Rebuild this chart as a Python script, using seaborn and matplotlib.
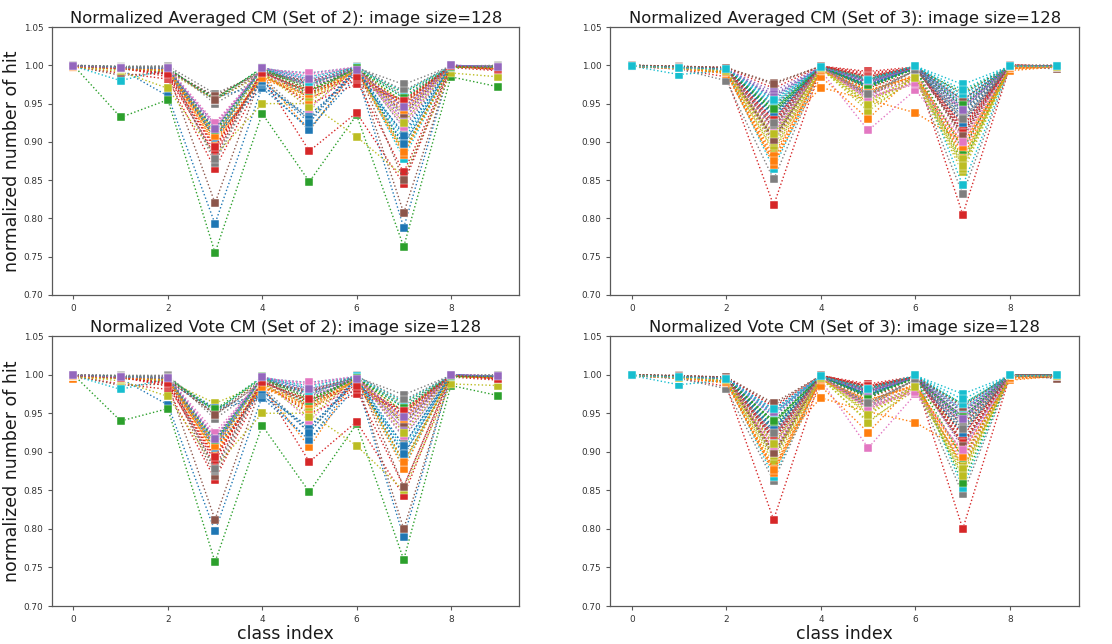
import matplotlib
matplotlib.use("Agg")
import matplotlib.pyplot as plt
import seaborn as sns
import pandas as pd

classes = list(range(10))

avg_set2 = [
    [0.999,0.995,0.960,0.793,0.972,0.935,0.990,0.788,0.999,0.998],
    [0.997,0.996,0.995,0.900,0.985,0.915,0.996,0.950,0.999,0.997],
    [1.000,0.932,0.955,0.755,0.937,0.848,0.935,0.763,0.985,0.972],
    [0.998,0.990,0.982,0.865,0.985,0.888,0.938,0.845,0.997,0.993],
    [0.999,0.996,0.993,0.923,0.996,0.980,0.990,0.935,1.000,0.997],
    [0.999,0.987,0.990,0.820,0.990,0.975,0.995,0.807,0.998,0.997],
    [0.999,0.995,0.996,0.918,0.997,0.985,0.998,0.930,1.000,0.998],
    [1.000,0.999,0.999,0.950,0.985,0.928,0.997,0.975,0.999,1.000],
    [0.998,0.992,0.970,0.882,0.950,0.950,0.907,0.855,0.990,0.985],
    [0.999,0.980,0.995,0.905,0.995,0.990,0.997,0.878,0.999,0.998],
    [0.999,0.998,0.990,0.910,0.970,0.918,0.985,0.912,0.999,0.996],
    [0.998,0.997,0.992,0.898,0.982,0.960,0.993,0.948,0.999,0.996],
    [0.999,0.998,0.997,0.905,0.998,0.970,0.995,0.964,0.998,0.999],
    [1.000,0.997,0.985,0.885,0.993,0.958,0.980,0.860,0.999,0.995],
    [0.999,0.997,0.996,0.912,0.995,0.975,0.988,0.940,1.000,0.998],
    [0.999,0.996,0.995,0.958,0.992,0.978,0.998,0.850,0.999,0.998],
    [0.999,0.996,0.997,0.920,0.996,0.943,0.997,0.940,0.999,0.998],
    [1.000,0.998,0.999,0.963,0.990,0.965,0.999,0.918,0.999,0.999],
    [0.998,0.995,0.992,0.955,0.988,0.952,0.995,0.885,0.998,0.996],
    [0.999,0.997,0.996,0.955,0.997,0.985,0.998,0.903,0.999,0.998],
    [0.999,0.997,0.994,0.958,0.975,0.915,0.996,0.895,1.000,0.997],
    [0.998,0.996,0.993,0.903,0.983,0.968,0.992,0.883,0.999,0.996],
    [0.999,0.997,0.995,0.957,0.995,0.962,0.997,0.890,0.997,0.998],
    [0.999,0.996,0.988,0.882,0.990,0.950,0.975,0.955,0.999,0.994],
    [0.999,0.997,0.995,0.915,0.997,0.972,0.992,0.945,1.000,0.998],
    [0.999,0.995,0.993,0.960,0.993,0.976,0.996,0.945,0.999,0.997],
    [0.999,0.996,0.997,0.922,0.996,0.988,0.997,0.925,1.000,0.998],
    [1.000,0.998,0.998,0.873,0.992,0.973,0.999,0.960,0.999,0.999],
    [0.998,0.996,0.994,0.910,0.990,0.945,0.996,0.935,0.998,0.996],
    [0.999,0.997,0.996,0.912,0.996,0.982,0.998,0.965,0.999,0.998],
    [0.999,0.997,0.995,0.905,0.978,0.930,0.996,0.908,1.000,0.997],
    [0.998,0.997,0.994,0.895,0.986,0.955,0.994,0.887,0.999,0.996],
    [0.999,0.998,0.996,0.955,0.997,0.968,0.996,0.952,0.998,0.998],
    [0.999,0.996,0.990,0.890,0.991,0.965,0.982,0.950,0.999,0.995],
    [0.999,0.997,0.996,0.908,0.996,0.978,0.993,0.930,1.000,0.998],
    [0.999,0.996,0.994,0.955,0.990,0.980,0.997,0.937,0.999,0.997],
    [0.999,0.996,0.997,0.925,0.995,0.990,0.998,0.920,1.000,0.998],
    [1.000,0.998,0.998,0.878,0.993,0.960,0.998,0.967,0.999,0.999],
    [0.998,0.995,0.993,0.913,0.989,0.958,0.996,0.925,0.998,0.996],
    [0.999,0.997,0.996,0.917,0.996,0.975,0.998,0.958,0.999,0.998],
    [0.999,0.997,0.995,0.915,0.980,0.925,0.996,0.897,1.000,0.997],
    [0.998,0.996,0.994,0.908,0.984,0.962,0.993,0.942,0.999,0.996],
    [0.999,0.997,0.996,0.915,0.996,0.966,0.996,0.957,0.998,0.998],
    [0.999,0.996,0.989,0.893,0.990,0.968,0.985,0.953,0.999,0.995],
    [0.999,0.997,0.996,0.917,0.997,0.982,0.994,0.945,1.000,0.998],
]

vote_set2 = [
    [0.999,0.995,0.961,0.797,0.972,0.933,0.990,0.789,0.999,0.998],
    [0.995,0.996,0.995,0.898,0.985,0.906,0.996,0.952,0.999,0.997],
    [1.000,0.940,0.956,0.757,0.934,0.848,0.936,0.760,0.986,0.973],
    [0.998,0.988,0.981,0.864,0.986,0.887,0.939,0.843,0.997,0.993],
    [0.999,0.996,0.993,0.910,0.996,0.980,0.990,0.936,1.000,0.997],
    [0.999,0.986,0.988,0.812,0.989,0.977,0.995,0.800,0.998,0.997],
    [0.999,0.995,0.996,0.920,0.997,0.986,0.998,0.929,1.000,0.998],
    [1.000,0.999,0.999,0.943,0.985,0.925,0.997,0.974,0.999,1.000],
    [0.998,0.992,0.972,0.880,0.950,0.950,0.908,0.850,0.988,0.986],
    [0.999,0.981,0.995,0.912,0.995,0.990,0.997,0.880,0.999,0.998],
    [0.999,0.998,0.990,0.955,0.970,0.915,0.985,0.909,0.999,0.996],
    [0.998,0.997,0.992,0.900,0.983,0.958,0.993,0.948,0.999,0.996],
    [0.999,0.998,0.997,0.903,0.998,0.970,0.995,0.963,0.998,0.999],
    [1.000,0.997,0.985,0.888,0.993,0.958,0.980,0.855,0.999,0.995],
    [0.999,0.997,0.996,0.907,0.995,0.975,0.988,0.940,1.000,0.998],
    [0.999,0.996,0.995,0.868,0.992,0.978,0.998,0.855,0.999,0.998],
    [0.999,0.996,0.997,0.918,0.996,0.940,0.997,0.942,0.999,0.998],
    [1.000,0.999,0.999,0.948,0.990,0.965,0.999,0.918,0.999,0.999],
    [0.998,0.995,0.992,0.963,0.988,0.952,0.995,0.885,0.998,0.996],
    [0.999,0.997,0.996,0.952,0.997,0.985,0.998,0.902,0.999,0.998],
    [0.999,0.997,0.994,0.957,0.975,0.915,0.996,0.895,1.000,0.997],
    [0.998,0.996,0.993,0.903,0.983,0.968,0.992,0.878,0.999,0.996],
    [0.999,0.997,0.995,0.953,0.995,0.962,0.997,0.887,0.997,0.998],
    [0.999,0.996,0.988,0.882,0.990,0.950,0.975,0.955,0.999,0.994],
    [0.999,0.997,0.995,0.913,0.997,0.972,0.992,0.945,1.000,0.998],
    [0.999,0.995,0.993,0.950,0.993,0.976,0.996,0.945,0.999,0.997],
    [0.999,0.996,0.997,0.920,0.996,0.988,0.997,0.925,1.000,0.998],
    [1.000,0.998,0.998,0.875,0.992,0.973,0.999,0.960,0.999,0.999],
    [0.998,0.996,0.994,0.910,0.990,0.945,0.996,0.935,0.998,0.996],
    [0.999,0.997,0.996,0.912,0.996,0.982,0.998,0.965,0.999,0.998],
    [0.999,0.997,0.995,0.905,0.978,0.930,0.996,0.908,1.000,0.997],
    [0.998,0.997,0.994,0.895,0.986,0.955,0.994,0.887,0.999,0.996],
    [0.999,0.998,0.996,0.955,0.997,0.968,0.996,0.952,0.998,0.998],
    [0.999,0.996,0.990,0.890,0.991,0.965,0.982,0.950,0.999,0.995],
    [0.999,0.997,0.996,0.908,0.996,0.978,0.993,0.930,1.000,0.998],
    [0.999,0.996,0.994,0.948,0.990,0.980,0.997,0.937,0.999,0.997],
    [0.999,0.996,0.997,0.925,0.995,0.990,0.998,0.920,1.000,0.998],
    [1.000,0.998,0.998,0.878,0.993,0.960,0.998,0.967,0.999,0.999],
    [0.998,0.995,0.993,0.913,0.989,0.958,0.996,0.925,0.998,0.996],
    [0.999,0.997,0.996,0.917,0.996,0.975,0.998,0.958,0.999,0.998],
    [0.999,0.997,0.995,0.915,0.980,0.925,0.996,0.897,1.000,0.997],
    [0.998,0.996,0.994,0.908,0.984,0.962,0.993,0.942,0.999,0.996],
    [0.999,0.997,0.996,0.915,0.996,0.966,0.996,0.957,0.998,0.998],
    [0.999,0.996,0.989,0.893,0.990,0.968,0.985,0.953,0.999,0.995],
    [0.999,0.997,0.996,0.917,0.997,0.982,0.994,0.945,1.000,0.998],
]

avg_set3 = [
    [0.999,0.997,0.995,0.940,0.998,0.978,0.996,0.938,0.999,0.999],
    [0.999,0.996,0.990,0.905,0.971,0.955,0.938,0.900,0.995,0.998],
    [1.000,0.998,0.996,0.942,0.999,0.982,0.998,0.955,0.999,0.999],
    [0.999,0.995,0.985,0.817,0.997,0.970,0.992,0.805,0.999,0.998],
    [0.999,0.997,0.994,0.960,0.998,0.980,0.997,0.950,0.999,0.999],
    [1.000,0.999,0.997,0.977,0.999,0.985,0.998,0.962,1.000,1.000],
    [0.998,0.996,0.992,0.895,0.993,0.915,0.968,0.888,0.998,0.997],
    [0.999,0.995,0.980,0.851,0.996,0.962,0.985,0.832,0.998,0.998],
    [0.999,0.996,0.990,0.890,0.995,0.945,0.980,0.860,0.998,0.998],
    [0.999,0.988,0.993,0.865,0.997,0.975,0.999,0.843,0.999,0.998],
    [0.999,0.997,0.996,0.930,0.998,0.976,0.997,0.940,0.999,0.999],
    [0.999,0.996,0.989,0.872,0.985,0.930,0.990,0.895,0.993,0.998],
    [0.999,0.997,0.995,0.935,0.998,0.970,0.996,0.872,0.999,0.999],
    [1.000,0.998,0.997,0.970,0.999,0.992,0.998,0.925,1.000,0.999],
    [0.999,0.997,0.995,0.966,0.998,0.979,0.997,0.915,0.999,0.999],
    [1.000,0.999,0.996,0.930,0.999,0.983,0.998,0.905,1.000,1.000],
    [0.999,0.996,0.994,0.915,0.997,0.960,0.975,0.945,0.999,0.998],
    [0.999,0.997,0.993,0.905,0.998,0.965,0.993,0.935,0.999,0.999],
    [0.999,0.996,0.992,0.908,0.996,0.950,0.982,0.865,0.999,0.998],
    [0.999,0.997,0.995,0.952,0.998,0.978,0.999,0.975,0.999,0.999],
    [0.999,0.997,0.996,0.945,0.998,0.974,0.997,0.955,0.999,0.999],
    [0.999,0.996,0.991,0.878,0.994,0.968,0.985,0.898,0.997,0.998],
    [0.999,0.997,0.995,0.948,0.998,0.972,0.996,0.965,0.999,0.999],
    [0.999,0.997,0.996,0.925,0.999,0.990,0.997,0.920,1.000,0.999],
    [0.999,0.997,0.996,0.955,0.998,0.976,0.997,0.948,0.999,0.999],
    [1.000,0.998,0.997,0.900,0.999,0.980,0.998,0.910,1.000,0.999],
    [0.999,0.996,0.994,0.920,0.997,0.958,0.978,0.890,0.999,0.998],
    [0.999,0.997,0.994,0.913,0.998,0.960,0.994,0.930,0.999,0.999],
    [0.999,0.996,0.993,0.887,0.996,0.955,0.985,0.875,0.999,0.998],
    [0.999,0.997,0.995,0.958,0.998,0.982,0.999,0.958,0.999,0.999],
    [0.999,0.997,0.996,0.937,0.998,0.975,0.997,0.933,0.999,0.999],
    [0.999,0.996,0.991,0.882,0.993,0.965,0.988,0.885,0.996,0.998],
    [0.999,0.997,0.995,0.940,0.998,0.973,0.996,0.942,0.999,0.999],
    [0.999,0.997,0.996,0.922,0.999,0.988,0.997,0.915,1.000,0.999],
    [0.999,0.997,0.996,0.948,0.998,0.977,0.997,0.952,0.999,0.999],
    [1.000,0.998,0.997,0.905,0.999,0.981,0.998,0.918,1.000,0.999],
    [0.999,0.996,0.994,0.910,0.997,0.955,0.980,0.905,0.999,0.998],
    [0.999,0.997,0.994,0.918,0.998,0.962,0.994,0.927,0.999,0.999],
    [0.999,0.996,0.993,0.895,0.996,0.940,0.985,0.870,0.999,0.998],
    [0.999,0.997,0.995,0.945,0.998,0.980,0.999,0.950,0.999,0.999],
    [0.999,0.997,0.996,0.932,0.998,0.973,0.997,0.945,0.999,0.999],
    [0.999,0.996,0.991,0.870,0.994,0.962,0.987,0.880,0.996,0.998],
    [0.999,0.997,0.995,0.938,0.998,0.971,0.996,0.890,0.999,0.999],
    [0.999,0.997,0.996,0.918,0.999,0.986,0.997,0.922,1.000,0.999],
    [0.999,0.997,0.996,0.962,0.998,0.978,0.997,0.946,0.999,0.999],
    [1.000,0.998,0.997,0.975,0.999,0.979,0.998,0.955,1.000,0.995],
    [0.999,0.996,0.994,0.928,0.997,0.962,0.982,0.945,0.999,0.998],
    [0.999,0.997,0.994,0.920,0.998,0.958,0.994,0.938,0.999,0.999],
    [0.999,0.996,0.993,0.900,0.996,0.952,0.986,0.878,0.999,0.998],
    [0.999,0.997,0.995,0.950,0.998,0.983,0.999,0.962,0.999,0.999],
    [0.999,0.997,0.996,0.935,0.998,0.972,0.997,0.925,0.999,0.999],
    [0.999,0.996,0.991,0.875,0.994,0.967,0.986,0.893,0.996,0.998],
    [0.999,0.997,0.995,0.943,0.998,0.974,0.996,0.948,0.999,0.999],
    [0.999,0.997,0.996,0.928,0.999,0.985,0.997,0.912,1.000,0.999],
    [0.999,0.997,0.996,0.958,0.998,0.979,0.997,0.942,0.999,0.999],
    [1.000,0.998,0.997,0.903,0.999,0.982,0.998,0.908,1.000,0.999],
    [0.999,0.996,0.994,0.912,0.997,0.957,0.977,0.900,0.999,0.998],
    [0.999,0.997,0.994,0.925,0.998,0.963,0.994,0.930,0.999,0.999],
    [0.999,0.996,0.993,0.910,0.996,0.948,0.984,0.868,0.999,0.998],
    [0.999,0.997,0.995,0.955,0.998,0.981,0.999,0.968,0.999,0.999],
]

vote_set3 = [
    [0.999,0.997,0.995,0.928,0.998,0.978,0.996,0.940,0.999,0.999],
    [0.999,0.996,0.990,0.903,0.970,0.952,0.938,0.902,0.994,0.998],
    [1.000,0.998,0.996,0.937,0.999,0.982,0.998,0.950,0.999,0.999],
    [0.999,0.995,0.985,0.812,0.997,0.970,0.992,0.800,0.999,0.998],
    [0.999,0.997,0.994,0.948,0.998,0.980,0.997,0.955,0.999,0.999],
    [1.000,0.999,0.997,0.960,0.999,0.985,0.998,0.960,1.000,1.000],
    [0.998,0.996,0.992,0.900,0.993,0.905,0.975,0.888,0.998,0.997],
    [0.999,0.995,0.982,0.862,0.996,0.958,0.985,0.845,0.998,0.996],
    [0.999,0.996,0.990,0.890,0.995,0.940,0.980,0.875,0.998,0.998],
    [0.999,0.987,0.993,0.867,0.997,0.975,0.999,0.853,0.999,0.998],
    [0.999,0.997,0.996,0.925,0.998,0.976,0.997,0.942,0.999,0.999],
    [0.999,0.996,0.989,0.875,0.985,0.925,0.990,0.880,0.993,0.998],
    [0.999,0.997,0.995,0.935,0.998,0.970,0.996,0.860,0.999,0.999],
    [1.000,0.998,0.997,0.958,0.999,0.988,0.998,0.935,1.000,0.999],
    [0.999,0.997,0.995,0.945,0.998,0.979,0.997,0.905,0.999,0.999],
    [1.000,0.999,0.996,0.920,0.999,0.983,0.998,0.915,1.000,1.000],
    [0.999,0.996,0.994,0.905,0.997,0.960,0.978,0.950,0.999,0.998],
    [0.999,0.997,0.993,0.895,0.998,0.965,0.993,0.935,0.999,0.999],
    [0.999,0.996,0.992,0.908,0.996,0.950,0.982,0.928,0.999,0.998],
    [0.999,0.997,0.995,0.952,0.998,0.978,0.999,0.975,0.999,0.999],
    [0.999,0.997,0.996,0.940,0.998,0.974,0.997,0.952,0.999,0.999],
    [0.999,0.996,0.991,0.880,0.994,0.968,0.985,0.898,0.997,0.998],
    [0.999,0.997,0.995,0.930,0.998,0.972,0.996,0.962,0.999,0.999],
    [0.999,0.997,0.996,0.918,0.999,0.985,0.997,0.920,1.000,0.999],
    [0.999,0.997,0.996,0.950,0.998,0.976,0.997,0.946,0.999,0.999],
    [1.000,0.998,0.997,0.893,0.999,0.980,0.998,0.912,1.000,0.999],
    [0.999,0.996,0.994,0.902,0.997,0.958,0.980,0.885,0.999,0.998],
    [0.999,0.997,0.994,0.912,0.998,0.960,0.994,0.930,0.999,0.999],
    [0.999,0.996,0.993,0.885,0.996,0.955,0.985,0.870,0.999,0.998],
    [0.999,0.997,0.995,0.955,0.998,0.982,0.999,0.960,0.999,0.999],
    [0.999,0.997,0.996,0.932,0.998,0.975,0.997,0.933,0.999,0.999],
    [0.999,0.996,0.991,0.878,0.993,0.965,0.988,0.890,0.996,0.998],
    [0.999,0.997,0.995,0.940,0.998,0.973,0.996,0.942,0.999,0.999],
    [0.999,0.997,0.996,0.915,0.999,0.986,0.997,0.910,1.000,0.999],
    [0.999,0.997,0.996,0.945,0.998,0.977,0.997,0.952,0.999,0.999],
    [1.000,0.998,0.997,0.900,0.999,0.981,0.998,0.922,1.000,0.999],
    [0.999,0.996,0.994,0.910,0.997,0.955,0.981,0.900,0.999,0.998],
    [0.999,0.997,0.994,0.918,0.998,0.962,0.994,0.927,0.999,0.999],
    [0.999,0.996,0.993,0.895,0.996,0.938,0.985,0.882,0.999,0.998],
    [0.999,0.997,0.995,0.948,0.998,0.980,0.999,0.955,0.999,0.999],
    [0.999,0.997,0.996,0.932,0.998,0.973,0.997,0.945,0.999,0.999],
    [0.999,0.996,0.991,0.872,0.994,0.962,0.987,0.878,0.996,0.998],
    [0.999,0.997,0.995,0.938,0.998,0.971,0.996,0.892,0.999,0.999],
    [0.999,0.997,0.996,0.915,0.999,0.984,0.997,0.922,1.000,0.999],
    [0.999,0.997,0.996,0.955,0.998,0.978,0.997,0.946,0.999,0.999],
    [1.000,0.998,0.997,0.963,0.999,0.979,0.998,0.958,1.000,0.995],
    [0.999,0.996,0.994,0.922,0.997,0.962,0.982,0.940,0.999,0.998],
    [0.999,0.997,0.994,0.920,0.998,0.958,0.994,0.938,0.999,0.999],
    [0.999,0.996,0.993,0.898,0.996,0.952,0.986,0.878,0.999,0.998],
    [0.999,0.997,0.995,0.950,0.998,0.983,0.999,0.962,0.999,0.999],
    [0.999,0.997,0.996,0.928,0.998,0.972,0.997,0.925,0.999,0.999],
    [0.999,0.996,0.991,0.876,0.994,0.967,0.986,0.893,0.996,0.998],
    [0.999,0.997,0.995,0.940,0.998,0.974,0.996,0.945,0.999,0.999],
    [0.999,0.997,0.996,0.922,0.999,0.985,0.997,0.912,1.000,0.999],
    [0.999,0.997,0.996,0.952,0.998,0.979,0.997,0.942,0.999,0.999],
    [1.000,0.998,0.997,0.898,0.999,0.982,0.998,0.908,1.000,0.999],
    [0.999,0.996,0.994,0.908,0.997,0.957,0.977,0.902,0.999,0.998],
    [0.999,0.997,0.994,0.925,0.998,0.963,0.994,0.930,0.999,0.999],
    [0.999,0.996,0.993,0.910,0.996,0.948,0.984,0.868,0.999,0.998],
    [0.999,0.997,0.995,0.955,0.998,0.981,0.999,0.968,0.999,0.999],
]

titles = [
    "Normalized Averaged CM (Set of 2): image size=128",
    "Normalized Averaged CM (Set of 3): image size=128",
    "Normalized Vote CM (Set of 2): image size=128",
    "Normalized Vote CM (Set of 3): image size=128",
]
panels = [avg_set2, avg_set3, vote_set2, vote_set3]
ylabel = "normalized number of hit"
xlabel = "class index"
yticks = [0.70, 0.75, 0.80, 0.85, 0.90, 0.95, 1.00, 1.05]
xticks = [0, 2, 4, 6, 8]

sns.set_style("white")
plt.rcParams["font.family"] = ["DejaVu Sans"]
plt.rcParams["axes.edgecolor"] = "0.35"
plt.rcParams["xtick.color"] = "0.35"
plt.rcParams["ytick.color"] = "0.35"
plt.rcParams["xtick.labelcolor"] = "0.2"
plt.rcParams["ytick.labelcolor"] = "0.2"

base = sns.color_palette("tab10", 10)

fig = plt.figure(figsize=(11.12, 6.44), dpi=100)
positions = [
    [0.047, 0.542, 0.420, 0.416],
    [0.549, 0.542, 0.421, 0.416],
    [0.047, 0.059, 0.420, 0.419],
    [0.549, 0.059, 0.421, 0.419],
]

for k, (rows, title, pos) in enumerate(zip(panels, titles, positions)):
    ax = fig.add_axes(pos)
    recs = []
    for i, row in enumerate(rows):
        for c, v in zip(classes, row):
            recs.append({"series": i, "class": c, "value": v})
    df = pd.DataFrame(recs)
    pal = [base[i % 10] for i in range(len(rows))]
    sns.lineplot(data=df, x="class", y="value", hue="series", palette=pal,
                 marker="s", markersize=5.3, linestyle=":", linewidth=1.0,
                 markeredgecolor="white", markeredgewidth=0.3,
                 legend=False, errorbar=None, sort=True, ax=ax)
    ax.set_ylim(0.70, 1.05)
    ax.set_xlim(-0.45, 9.45)
    ax.set_yticks(yticks)
    ax.set_yticklabels([f"{t:.2f}" for t in yticks])
    ax.set_xticks(xticks)
    ax.tick_params(axis="both", labelsize=6.4, length=3, width=0.8,
                   bottom=True, left=True)
    ax.set_title(title, fontsize=11.8, pad=3, color="0.1")
    ax.set_xlabel(xlabel if k >= 2 else "", fontsize=12.5, labelpad=1, color="0.1")
    ax.set_ylabel(ylabel if k % 2 == 0 else "", fontsize=12.5, labelpad=2, color="0.1")
    for s in ax.spines.values():
        s.set_linewidth(0.9)
        s.set_visible(True)

fig.savefig("out.png", dpi=100)
